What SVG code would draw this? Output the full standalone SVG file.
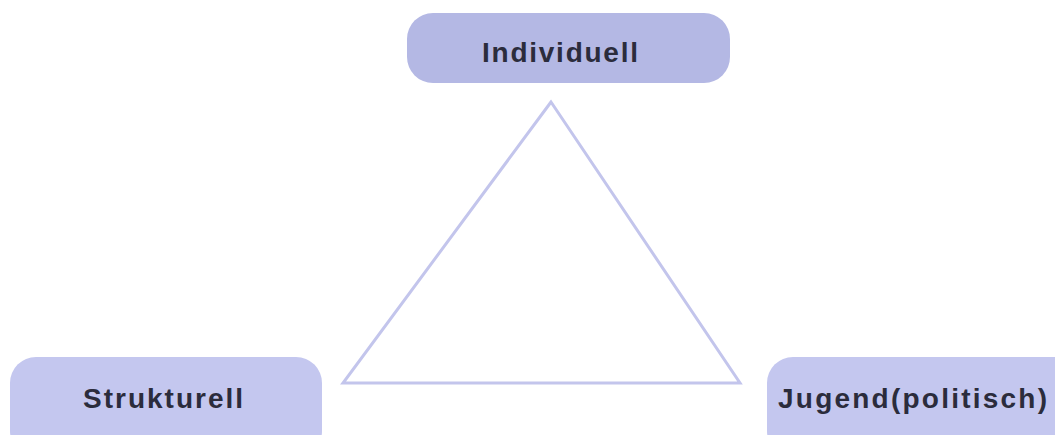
<svg xmlns="http://www.w3.org/2000/svg" width="1055" height="435" viewBox="0 0 1055 435">
<style>
.box{fill:#b4b8e4}
.boxl{fill:#c4c7ef}
.lbl{font-family:"Liberation Sans",Arial,sans-serif;font-weight:bold;font-size:28px;fill:#2b2c3c}
.edge{fill:none;stroke:#c3c5ec;stroke-width:3;stroke-linejoin:miter}
</style>
<rect width="1055" height="435" fill="#ffffff"/>
<g id="connectors">
<polygon class="edge" points="551,102 343,383 740,383"/>
</g>
<g id="individuell">
<rect class="box" x="407" y="13" width="323" height="70" rx="26"/>
<text class="lbl" x="482" y="62" textLength="156" lengthAdjust="spacing">Individuell</text>
</g>
<g id="strukturell">
<rect class="boxl" x="10" y="357" width="312" height="100" rx="26"/>
<text class="lbl" x="83" y="408" textLength="160" lengthAdjust="spacing">Strukturell</text>
</g>
<g id="jugend">
<rect class="boxl" x="767" y="357" width="320" height="100" rx="26"/>
<text class="lbl" x="778" y="408" textLength="269" lengthAdjust="spacing">Jugend(politisch)</text>
</g>
</svg>
